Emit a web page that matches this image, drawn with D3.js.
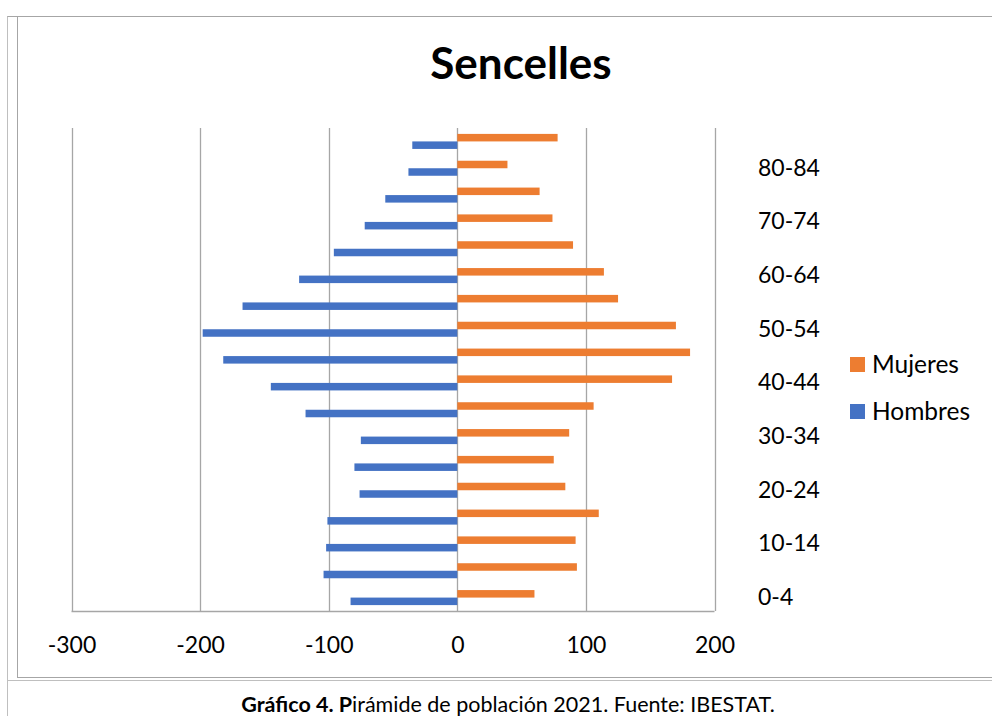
<!DOCTYPE html>
<html>
<head>
<meta charset="utf-8">
<script src="https://cdn.jsdelivr.net/npm/d3@7"></script>
<style>
  html, body { margin: 0; padding: 0; background: #fff; }
  svg { display: block; font-family: Lato, "Noto Sans", sans-serif; }
</style>
</head>
<body>
<svg id="chart" width="992" height="716"></svg>
<script>
// ---- data (bottom to top, as in the chart) ----
const categories = ["0-4","5-9","10-14","15-19","20-24","25-29","30-34","35-39","40-44",
                    "45-49","50-54","55-59","60-64","65-69","70-74","75-79","80-84","85+"];
const hombres = [-83, -104, -102, -101, -76, -80, -75, -118, -145, -182, -198, -167, -123, -96, -72, -56, -38, -35];
const mujeres = [60, 93, 92, 110, 84, 75, 87, 106, 167, 181, 170, 125, 114, 90, 74, 64, 39, 78];
const seriesNames = ["Mujeres", "Hombres"];
const xTicks = [-300, -200, -100, 0, 100, 200];
const shownLabels = ["0-4","10-14","20-24","30-34","40-44","50-54","60-64","70-74","80-84"];
const title = "Sencelles";

const colors = { Mujeres: "#ED7D31", Hombres: "#4472C4" };
const svg = d3.select("#chart");

// frames
svg.append("line").attr("x1", 7.5).attr("x2", 7.5).attr("y1", 16).attr("y2", 716)
  .attr("stroke", "#bfbfbf").attr("stroke-width", 1);
svg.append("line").attr("x1", 7.5).attr("x2", 992).attr("y1", 16.5).attr("y2", 16.5)
  .attr("stroke", "#a6a6a6").attr("stroke-width", 1);
svg.append("line").attr("x1", 17.5).attr("x2", 17.5).attr("y1", 16).attr("y2", 678)
  .attr("stroke", "#a6a6a6").attr("stroke-width", 1);
svg.append("line").attr("x1", 17.5).attr("x2", 992).attr("y1", 677.5).attr("y2", 677.5)
  .attr("stroke", "#a6a6a6").attr("stroke-width", 1);
svg.append("line").attr("x1", 7.5).attr("x2", 992).attr("y1", 680.5).attr("y2", 680.5)
  .attr("stroke", "#bfbfbf").attr("stroke-width", 1);

// scales
const x = d3.scaleLinear().domain([-300, 200]).range([71.5, 714.5]);
const y = d3.scaleBand().domain(categories.slice().reverse()).range([128, 611])
  .paddingInner(0.44).paddingOuter(0.22);
const sub = d3.scaleBand().domain(seriesNames).range([0, y.bandwidth()]);

// gridlines
svg.append("g").selectAll("line").data(xTicks).join("line")
  .attr("x1", d => Math.round(x(d)) + 0.5).attr("x2", d => Math.round(x(d)) + 0.5)
  .attr("y1", 128).attr("y2", 611)
  .attr("stroke", "#a6a6a6").attr("stroke-width", 1.3);

// bars
const rows = categories.map((c, i) => ({ c, h: hombres[i], m: mujeres[i] }));
svg.append("g").selectAll("rect").data(rows).join("rect")
  .attr("x", d => x(d.h)).attr("width", d => x(0) - x(d.h))
  .attr("y", d => y(d.c) + sub("Hombres")).attr("height", sub.bandwidth())
  .attr("fill", colors.Hombres);
svg.append("g").selectAll("rect").data(rows).join("rect")
  .attr("x", x(0)).attr("width", d => x(d.m) - x(0))
  .attr("y", d => y(d.c) + sub("Mujeres")).attr("height", sub.bandwidth())
  .attr("fill", colors.Mujeres);

// bottom axis line
svg.append("line").attr("x1", x(-300)).attr("x2", x(200)).attr("y1", 611.5).attr("y2", 611.5)
  .attr("stroke", "#a6a6a6").attr("stroke-width", 1.3);

// x axis labels
const xAxis = svg.append("g").attr("transform", "translate(0,611)")
  .call(d3.axisBottom(x).tickValues(xTicks).tickSize(0).tickPadding(26).tickFormat(d => String(d)));
xAxis.select(".domain").remove();
xAxis.selectAll("text").attr("font-size", 23).attr("fill", "#000").attr("font-family", "Lato");

// category labels on right
const yAxis = svg.append("g").attr("transform", "translate(758,0)")
  .call(d3.axisRight(y).tickValues(shownLabels).tickSize(0).tickPadding(0));
yAxis.select(".domain").remove();
yAxis.selectAll("text").attr("font-size", 23).attr("fill", "#000").attr("font-family", "Lato")
  .attr("text-anchor", "start");

// title
svg.append("text").attr("x", 521).attr("y", 79).attr("text-anchor", "middle")
  .attr("font-size", 44).attr("font-weight", "bold").attr("fill", "#000").text(title);

// legend
const legend = svg.append("g");
seriesNames.forEach((s, i) => {
  const gy = 357 + i * 47;
  legend.append("rect").attr("x", 850).attr("y", gy).attr("width", 15).attr("height", 15)
    .attr("fill", colors[s]);
  legend.append("text").attr("x", 872).attr("y", gy + 7.5).attr("dy", "0.35em")
    .attr("font-size", 24.5).attr("fill", "#000").text(s);
});

// caption
const cap = svg.append("text").attr("x", 508).attr("y", 712).attr("text-anchor", "middle")
  .attr("font-size", 21.5).attr("fill", "#000");
cap.append("tspan").attr("font-weight", "bold").text("Gráfico 4. P");
cap.append("tspan").text("irámide de población 2021. Fuente: IBESTAT.");
</script>
</body>
</html>
